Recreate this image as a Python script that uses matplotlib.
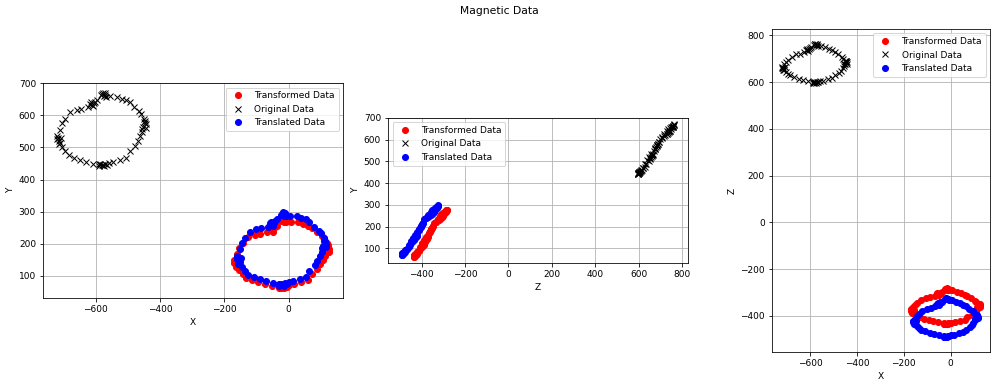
import matplotlib
matplotlib.use("Agg")
import matplotlib.pyplot as plt

# raw magnetometer readings
original_x = [-448, -452, -446, -455, -450, -458, -465, -480, -495, -505, -520, -535, -555,
              -570, -575, -580, -568, -595, -605, -612, -615, -608, -625, -645, -660, -680,
              -695, -705, -712, -718, -715, -720, -712, -705, -695, -685, -668, -650, -630,
              -610, -590, -578, -572, -582, -560, -545, -525, -505, -495, -478, -470, -462, -455,
              -578, -572, -585, -618, -603, -722, -716, -709, -444, -449, -443, -586, -574, -566, -590]
original_y = [575, 565, 582, 558, 590, 605, 612, 625, 640, 648, 652, 658, 660,
              664, 660, 666, 658, 648, 638, 632, 640, 628, 625, 620, 618, 610,
              590, 575, 555, 530, 520, 525, 515, 500, 488, 476, 468, 462, 455,
              450, 448, 446, 450, 444, 452, 455, 462, 468, 488, 505, 520, 535, 548,
              670, 668, 662, 636, 642, 535, 510, 528, 572, 580, 562, 448, 442, 446, 442]
original_z = [685, 678, 690, 675, 692, 700, 706, 718, 728, 735, 742, 748, 755,
              760, 758, 762, 756, 748, 740, 736, 742, 732, 730, 722, 718, 708,
              695, 685, 675, 662, 658, 660, 652, 645, 635, 628, 620, 615, 610,
              605, 600, 598, 601, 597, 603, 606, 612, 618, 628, 638, 648, 658, 668,
              764, 761, 759, 738, 744, 666, 650, 664, 684, 688, 676, 598, 596, 600, 595]

# hard-iron corrected (translated) readings
translated_x = [112, 108, 114, 105, 110, 102, 95, 80, 65, 55, 40, 25, 5,
                -10, -15, -20, -8, -35, -45, -52, -55, -48, -65, -85, -100, -120,
                -135, -145, -152, -158, -155, -160, -152, -145, -135, -125, -108, -90, -70,
                -50, -30, -18, -12, -22, 0, 15, 35, 55, 65, 82, 90, 98, 105,
                -18, -12, -25, -58, -43, -162, -156, -149, 116, 111, 117, -26, -14, -6, -30]
translated_y = [203, 193, 210, 186, 218, 233, 240, 253, 268, 276, 280, 286, 288,
                292, 288, 294, 286, 276, 266, 260, 268, 256, 253, 248, 246, 238,
                218, 203, 183, 158, 148, 153, 143, 128, 116, 104, 96, 90, 83,
                78, 76, 74, 78, 72, 80, 83, 90, 96, 116, 133, 148, 163, 176,
                298, 296, 290, 264, 270, 163, 138, 156, 200, 208, 190, 76, 70, 74, 70]
translated_z = [-402, -409, -397, -412, -395, -387, -381, -369, -359, -352, -345, -339, -332,
                -327, -329, -325, -331, -339, -347, -351, -345, -355, -357, -365, -369, -379,
                -392, -402, -412, -425, -429, -427, -435, -442, -452, -459, -467, -472, -477,
                -482, -487, -489, -486, -490, -484, -481, -475, -469, -459, -449, -439, -429, -419,
                -323, -326, -328, -349, -343, -421, -437, -423, -403, -399, -411, -489, -491, -487, -492]

# soft-iron corrected (transformed) readings
transformed_x = [122, 118, 124, 114, 120, 109, 104, 88, 72, 61, 45, 29, 7,
                 -9, -14, -19, -7, -35, -46, -54, -57, -49, -68, -89, -105, -126,
                 -142, -153, -161, -167, -164, -169, -161, -153, -142, -132, -114, -94, -73,
                 -52, -30, -17, -11, -22, 2, 18, 39, 61, 72, 90, 98, 107, 114,
                 -17, -11, -25, -60, -44, -171, -165, -157, 126, 121, 127, -26, -13, -4, -30]
transformed_y = [188, 179, 195, 172, 202, 217, 223, 236, 250, 257, 261, 267, 269,
                 273, 269, 274, 267, 257, 248, 242, 250, 238, 236, 231, 229, 221,
                 202, 188, 169, 146, 136, 141, 131, 117, 106, 95, 87, 81, 75,
                 70, 68, 66, 70, 64, 72, 75, 81, 87, 106, 122, 136, 150, 163,
                 278, 276, 271, 246, 252, 150, 127, 144, 185, 193, 176, 68, 62, 66, 62]
transformed_z = [-355, -361, -350, -364, -349, -341, -336, -325, -316, -309, -303, -298, -291,
                 -287, -288, -285, -290, -298, -305, -308, -303, -312, -314, -321, -325, -334,
                 -346, -355, -364, -376, -379, -378, -385, -391, -400, -407, -414, -419, -423,
                 -428, -432, -434, -431, -435, -429, -427, -421, -416, -407, -398, -389, -379, -370,
                 -283, -286, -287, -307, -301, -372, -387, -374, -356, -352, -363, -434, -436, -432, -437]

plt.rcParams['font.size'] = 9

W, H = 998, 387
fig = plt.figure(figsize=(W / 72, H / 72), dpi=72)
fig.suptitle("Magnetic Data", y=0.985)

# slot rectangles in pixels: left, top, width, height
slots = [(43, 29, 300, 323), (388, 29, 300, 323), (731, 29, 300, 323)]
views = [
    ((transformed_x, transformed_y), (original_x, original_y), (translated_x, translated_y), "X", "Y", "upper right"),
    ((transformed_z, transformed_y), (original_z, original_y), (translated_z, translated_y), "Z", "Y", "upper left"),
    ((transformed_x, transformed_z), (original_x, original_z), (translated_x, translated_z), "X", "Z", "upper right"),
]

for (l, t, w, h), (red, blk, blu, xl, yl, loc) in zip(slots, views):
    ax = fig.add_axes([l / W, 1 - (t + h) / H, w / W, h / H])
    ax.plot(red[0], red[1], 'ro', label="Transformed Data")
    ax.plot(blk[0], blk[1], 'kx', label="Original Data")
    ax.plot(blu[0], blu[1], 'bo', label="Translated Data")
    ax.set_aspect('equal')
    ax.grid(True)
    ax.set_xlabel(xl)
    ax.set_ylabel(yl)
    ax.legend(loc=loc)

fig.savefig("out.png", dpi=72)
